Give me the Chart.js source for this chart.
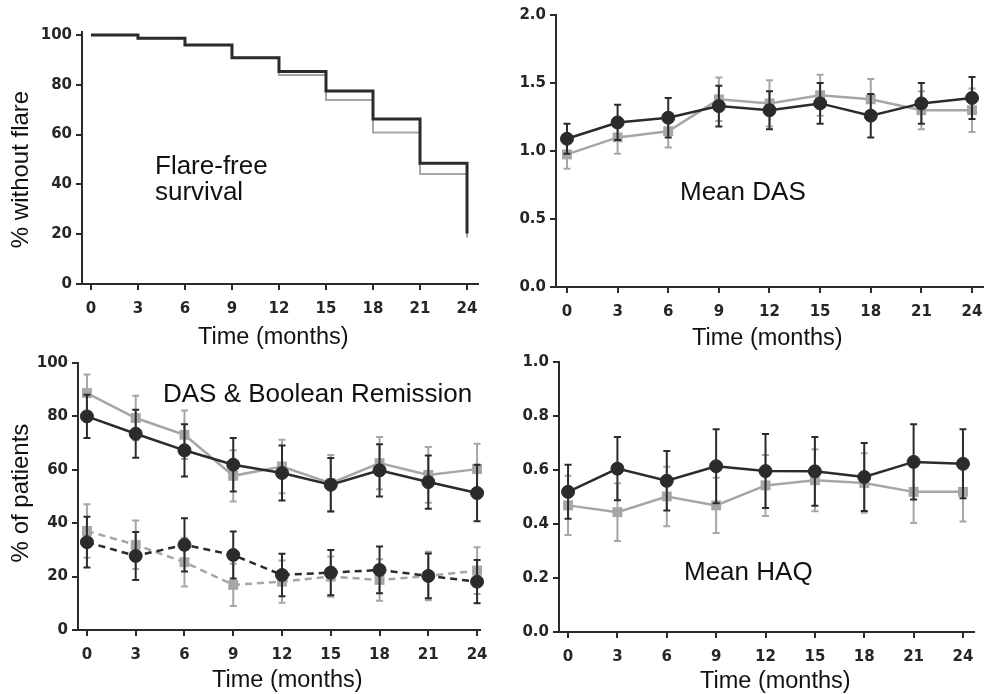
<!DOCTYPE html>
<html>
<head>
<meta charset="utf-8">
<script src="https://cdn.jsdelivr.net/npm/chart.js@4.4.1/dist/chart.umd.min.js"></script>
<style>
  html, body { margin: 0; padding: 0; background: #fff; overflow: hidden; }
  #wrap { position: relative; width: 984px; height: 694px; }
  canvas { position: absolute; }
</style>
</head>
<body>
<div id="wrap">
  <canvas id="c1" width="492" height="350" style="left:0;top:0"></canvas>
  <canvas id="c2" width="492" height="350" style="left:492px;top:0"></canvas>
  <canvas id="c3" width="492" height="344" style="left:0;top:350px"></canvas>
  <canvas id="c4" width="492" height="344" style="left:492px;top:350px"></canvas>
</div>
<script>
// time points, shared by all four panels
const months = [0, 3, 6, 9, 12, 15, 18, 21, 24];

// flare-free survival (%)
const survDark = [100, 98.7, 96, 90.9, 85.3, 77.5, 66.3, 48.5, 20.3];
const survGray = [100, 98.7, 96, 90.9, 83.9, 73.9, 60.8, 44.2, 18.7];
const survTicks = [0, 20, 40, 60, 80, 100];

// mean DAS
const dasDark = [1.09, 1.21, 1.245, 1.33, 1.30, 1.35, 1.26, 1.35, 1.39];
const dasDarkErr = [0.11, 0.13, 0.145, 0.15, 0.14, 0.15, 0.16, 0.15, 0.155];
const dasGray = [0.975, 1.10, 1.145, 1.38, 1.35, 1.41, 1.38, 1.30, 1.30];
const dasGrayErr = [0.105, 0.12, 0.12, 0.16, 0.17, 0.15, 0.15, 0.14, 0.16];
const dasTicks = [0, 0.5, 1.0, 1.5, 2.0];

// DAS remission (solid) and Boolean remission (dashed), % of patients
const remDasDark = [80, 73.5, 67.3, 61.9, 58.8, 54.4, 59.8, 55.4, 51.3];
const remDasDarkErr = [8.1, 9, 9.8, 10, 10.3, 10, 9.8, 10, 10.6];
const remDasGray = [88.75, 79.4, 73.1, 57.75, 61.25, 55, 62.5, 58.1, 60.25];
const remDasGrayErr = [6.9, 8.3, 9.1, 9.6, 10, 10.5, 9.75, 10.4, 9.5];
const remBoolDark = [32.9, 27.75, 31.9, 28.1, 20.6, 21.5, 22.5, 20.25, 18.1];
const remBoolDarkErr = [9.5, 9, 10, 8.8, 8, 8.5, 8.75, 8.4, 8.1];
const remBoolGray = [37.1, 31.9, 25.4, 16.9, 18.1, 20, 18.75, 20.25, 22.25];
const remBoolGrayErr = [10, 9.1, 9.1, 7.9, 7.9, 7.5, 7.75, 9.1, 8.75];
const remTicks = [0, 20, 40, 60, 80, 100];

// mean HAQ
const haqDark = [0.519, 0.605, 0.56, 0.614, 0.596, 0.595, 0.574, 0.630, 0.623];
const haqDarkErr = [0.10, 0.117, 0.11, 0.137, 0.137, 0.127, 0.126, 0.139, 0.128];
const haqGray = [0.469, 0.444, 0.502, 0.469, 0.543, 0.562, 0.552, 0.519, 0.519];
const haqGrayErr = [0.11, 0.107, 0.11, 0.102, 0.113, 0.115, 0.11, 0.115, 0.11];
const haqTicks = [0, 0.2, 0.4, 0.6, 0.8, 1.0];

const DARK = '#2b2b2b';
const GRAY = '#a6a6a6';
const FAMILY = '"Liberation Sans", Arial, sans-serif';

const pts = vals => vals.map((v, i) => ({ x: months[i], y: v }));

// draws a dataset's error bars just before the dataset itself
const errorBars = {
    id: 'errorBars',
    beforeDatasetDraw(chart, args) {
        const ds = chart.data.datasets[args.index];
        if (!ds.errors) return;
        const ctx = chart.ctx;
        const xs = chart.scales.x, ys = chart.scales.y;
        ctx.save();
        ctx.strokeStyle = ds.borderColor;
        ctx.lineWidth = 2;
        ctx.setLineDash([]);
        ds.data.forEach((p, i) => {
            const x = xs.getPixelForValue(p.x);
            const yTop = ys.getPixelForValue(p.y + ds.errors[i]);
            const yBot = ys.getPixelForValue(p.y - ds.errors[i]);
            ctx.beginPath();
            ctx.moveTo(x, yTop); ctx.lineTo(x, yBot);
            ctx.moveTo(x - 3.5, yTop); ctx.lineTo(x + 3.5, yTop);
            ctx.moveTo(x - 3.5, yBot); ctx.lineTo(x + 3.5, yBot);
            ctx.stroke();
        });
        ctx.restore();
    }
};

// axis titles and panel captions
function textPlugin(items) {
    return {
        id: 'panelText',
        afterDraw(chart) {
            const ctx = chart.ctx;
            items.forEach(it => {
                ctx.save();
                ctx.fillStyle = '#111';
                ctx.font = it.size + 'px ' + FAMILY;
                ctx.textBaseline = 'alphabetic';
                ctx.translate(it.x, it.y);
                if (it.rot) {
                    ctx.rotate(-Math.PI / 2);
                    ctx.textAlign = 'center';
                } else {
                    ctx.textAlign = 'left';
                }
                ctx.fillText(it.t, 0, 0);
                ctx.restore();
            });
        }
    };
}

function darkSeries(vals, errs, dashed) {
    return {
        data: pts(vals), errors: errs,
        borderColor: DARK, backgroundColor: DARK,
        borderWidth: 2.5, borderDash: dashed ? [7, 5] : [],
        pointStyle: 'circle', pointRadius: 6.5,
        pointBackgroundColor: DARK, pointBorderColor: DARK, pointBorderWidth: 1,
        clip: false
    };
}

function graySeries(vals, errs, dashed) {
    return {
        data: pts(vals), errors: errs,
        borderColor: GRAY, backgroundColor: GRAY,
        borderWidth: 2.5, borderDash: dashed ? [7, 5] : [],
        pointStyle: 'rect', pointRadius: 7,
        pointBackgroundColor: GRAY, pointBorderColor: GRAY, pointBorderWidth: 0,
        clip: false
    };
}

function makeChart(id, box, xMin, xMax, yMin, yMax, yTicks, decimals, datasets, texts) {
    const canvas = document.getElementById(id);
    const W = canvas.width, H = canvas.height;
    const axisGrid = { drawOnChartArea: false, drawTicks: true, tickLength: 6, color: DARK, lineWidth: 2 };
    const axisBorder = { display: true, color: DARK, width: 2 };
    const tickFont = { family: '"DejaVu Sans", sans-serif', size: 15, weight: 'bold' };
    new Chart(canvas.getContext('2d'), {
        type: 'line',
        data: { datasets: datasets },
        options: {
            responsive: false,
            animation: false,
            layout: { autoPadding: false, padding: { left: 0, top: box.top, right: W - box.right, bottom: 0 } },
            plugins: { legend: { display: false }, tooltip: { enabled: false } },
            scales: {
                x: {
                    type: 'linear', min: xMin, max: xMax,
                    afterBuildTicks: s => { s.ticks = months.map(v => ({ value: v })); },
                    afterFit: s => { s.height = H - box.bottom; s.paddingLeft = 0; s.paddingRight = 0; },
                    grid: axisGrid, border: axisBorder,
                    ticks: { font: tickFont, color: '#262626', padding: 10, maxRotation: 0, autoSkip: false,
                             callback: v => String(v) }
                },
                y: {
                    type: 'linear', min: yMin, max: yMax,
                    afterBuildTicks: s => { s.ticks = yTicks.map(v => ({ value: v })); },
                    afterFit: s => { s.width = box.left; s.paddingTop = 0; s.paddingBottom = 0; },
                    grid: axisGrid, border: axisBorder,
                    ticks: { font: tickFont, color: '#262626', padding: 4, autoSkip: false,
                             callback: v => v.toFixed(decimals) }
                }
            }
        },
        plugins: [errorBars, textPlugin(texts)]
    });
}

// top left: flare-free survival (step curves)
makeChart('c1', { left: 82, right: 478, top: 32, bottom: 284 }, -0.57, 24.7, 0, 101.2, survTicks, 0, [
    { data: pts(survDark), stepped: true, borderColor: DARK, borderWidth: 3, pointRadius: 0, clip: false },
    { data: pts(survGray), stepped: true, borderColor: GRAY, borderWidth: 2, pointRadius: 0, clip: false }
], [
    { t: '% without flare', x: 28, y: 169.5, size: 24, rot: true },
    { t: 'Time (months)', x: 198, y: 344, size: 23.5 },
    { t: 'Flare-free', x: 155, y: 174, size: 26 },
    { t: 'survival', x: 155, y: 200, size: 26 }
]);

// top right: mean DAS
makeChart('c2', { left: 64, right: 492, top: 15, bottom: 287 }, -0.65, 24.71, 0, 2.0, dasTicks, 1, [
    darkSeries(dasDark, dasDarkErr, false),
    graySeries(dasGray, dasGrayErr, false)
], [
    { t: 'Time (months)', x: 200, y: 345, size: 23.5 },
    { t: 'Mean DAS', x: 188, y: 200, size: 26 }
]);

// bottom left: DAS and Boolean remission
makeChart('c3', { left: 78, right: 480, top: 13, bottom: 280 }, -0.55, 24.18, 0, 100, remTicks, 0, [
    darkSeries(remDasDark, remDasDarkErr, false),
    darkSeries(remBoolDark, remBoolDarkErr, true),
    graySeries(remDasGray, remDasGrayErr, false),
    graySeries(remBoolGray, remBoolGrayErr, true)
], [
    { t: '% of patients', x: 28, y: 143, size: 24, rot: true },
    { t: 'Time (months)', x: 212, y: 337, size: 23.5 },
    { t: 'DAS & Boolean Remission', x: 163, y: 52, size: 26 }
]);

// bottom right: mean HAQ
makeChart('c4', { left: 67, right: 482, top: 12, bottom: 282 }, -0.55, 24.67, 0, 1.0, haqTicks, 1, [
    darkSeries(haqDark, haqDarkErr, false),
    graySeries(haqGray, haqGrayErr, false)
], [
    { t: 'Time (months)', x: 208, y: 338, size: 23.5 },
    { t: 'Mean HAQ', x: 192, y: 230, size: 26 }
]);
</script>
</body>
</html>
